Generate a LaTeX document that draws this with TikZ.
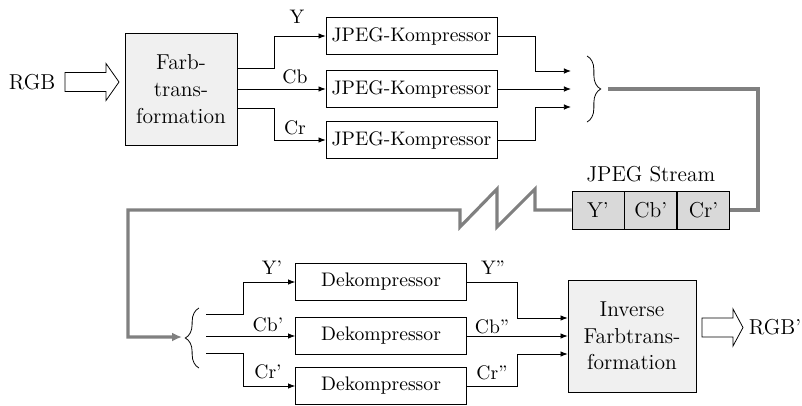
\documentclass[tikz,border=0pt]{standalone}
\usetikzlibrary{positioning,arrows.meta,decorations.pathreplacing}
\newlength{\pxu}\setlength{\pxu}{0.51pt}

\begin{document}
\begin{tikzpicture}[x=0.51pt,y=-0.51pt,every node/.style={font=\normalsize},
  big/.style={font=\fontsize{11}{13.6}\selectfont},
  blk/.style={draw,minimum width=171\pxu,minimum height=37\pxu,inner sep=0pt},
  proc/.style={draw,fill=gray!12,minimum width=112\pxu,minimum height=112\pxu,
    inner sep=0pt,align=center,big},
  cell/.style={draw,fill=gray!30,minimum width=52\pxu,minimum height=38\pxu,inner sep=0pt,big},
  sig/.style={-{Latex[length=3.6pt,width=2.8pt]}},
  gline/.style={draw=gray,line width=1.6pt},
  curly/.style={decorate,decoration={brace,amplitude=7pt}}]
  \newcommand{\hollowarrow}[4]{%
    \draw[fill=white] (#1,#2-9.5) -- ++(#3,0) -- ++(0,-9) -- ++(#4,18.5)
      -- ++(-#4,18.5) -- ++(0,-9) -- ++(-#3,0) -- cycle;}
  \useasboundingbox (0,0) rectangle (802,405);

  \node[big] (rgbin) at (32,82) {RGB};
  \hollowarrow{65}{82}{41}{13}
  \node[proc] (farb) at (181,89) {Farb-\\trans-\\formation};
  \node[blk] (k1) at (411.5,36) {JPEG-Kompressor};
  \node[blk] (k2) at (411.5,89) {JPEG-Kompressor};
  \node[blk] (k3) at (411.5,140) {JPEG-Kompressor};
  \draw[sig] ([yshift=21\pxu]farb.east) -- ++(37,0) |- (k1.west);
  \draw[sig] (farb.east) -- (k2.west);
  \draw[sig] ([yshift=-19\pxu]farb.east) -- ++(37,0) |- (k3.west);
  \node (ly) at (297,17) {Y};
  \node (lcb) at (295,77) {Cb};
  \node (lcr) at (295,128) {Cr};

  \coordinate (m1) at (571,71);
  \coordinate (m2) at (571,89);
  \coordinate (m3) at (571,107);
  \draw[sig] (k1.east) -- ++(38,0) |- (m1);
  \draw[sig] (k2.east) -- (m2);
  \draw[sig] (k3.east) -- ++(38,0) |- (m3);
  \draw[curly] (587,56) -- (587,122);

  \node[cell] (sy) at (598,210) {Y'};
  \node[cell,right=0pt of sy] (scb) {Cb'};
  \node[cell,right=0pt of scb] (scr) {Cr'};
  \node[big,above=1pt of scb] (slbl) {JPEG Stream};
  \coordinate (g0) at (608,89);
  \coordinate (g1) at (182,337);
  \draw[gline] (g0) -- (758,89) |- (scr.east);
  \draw[gline,-{Latex[length=5pt,width=4.5pt]}] (sy.west) -- (535,210) -- (535,189)
    -- (497,227) -- (497,189) -- (460,227) -- (460,210) -- (128,210) |- (g1);

  \draw[curly] (199,368) -- (199,308);
  \coordinate (s1) at (206,314);
  \coordinate (s2) at (206,336);
  \coordinate (s3) at (206,353);
  \node[blk] (d1) at (381,282) {Dekompressor};
  \node[blk] (d2) at (381,336) {Dekompressor};
  \node[blk] (d3) at (381,386) {Dekompressor};
  \draw[sig] (s1) -- ++(37,0) |- (d1.west);
  \draw[sig] (s2) -- (d2.west);
  \draw[sig] (s3) -- ++(37,0) |- (d3.west);
  \node (ly1) at (272,268) {Y'};
  \node (lcb1) at (268,325) {Cb'};
  \node (lcr1) at (268,372) {Cr'};

  \node[proc,minimum width=128\pxu] (inv) at (632,336) {Inverse\\Farbtrans-\\formation};
  \draw[sig] (d1.east) -- ++(50,0) |- ([yshift=18\pxu]inv.west);
  \draw[sig] (d2.east) -- (inv.west);
  \draw[sig] (d3.east) -- ++(50,0) |- ([yshift=-18\pxu]inv.west);
  \node (ly2) at (493,268) {Y''};
  \node (lcb2) at (492,327) {Cb''};
  \node (lcr2) at (492,373) {Cr''};

  \hollowarrow{702}{327.5}{31}{10}
  \node[big,anchor=west] (rgbout) at (742,327) {RGB'};
\end{tikzpicture}
\end{document}
